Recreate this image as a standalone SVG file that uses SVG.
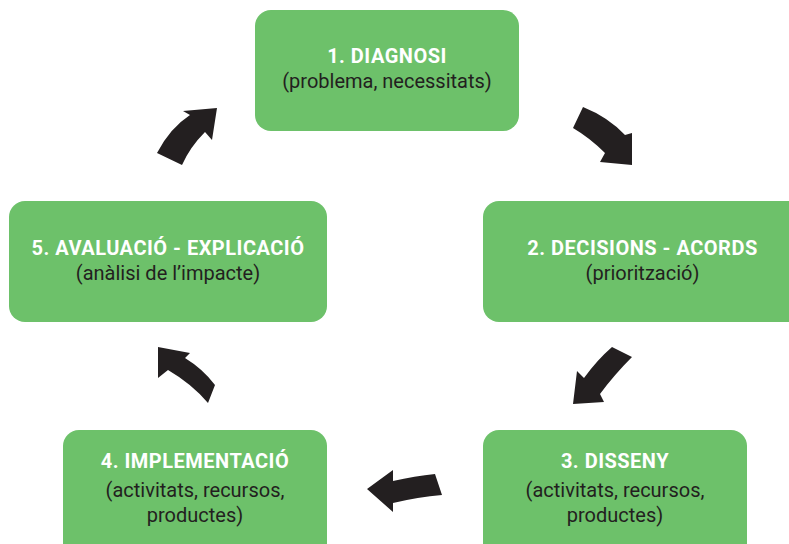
<svg xmlns="http://www.w3.org/2000/svg" width="789" height="544" viewBox="0 0 789 544">
<style>
.box{fill:#6DC16A}
.t{font-family:Roboto,"Liberation Sans",sans-serif;font-weight:bold;font-size:20px;letter-spacing:0.5px;fill:#ffffff;text-anchor:middle}
.s{font-family:Roboto,"Liberation Sans",sans-serif;font-size:20px;fill:#231f20;text-anchor:middle}
.arr{fill:#231f20}
</style>
<rect width="789" height="544" fill="#ffffff"/>
<g id="n1"><rect class="box" x="255" y="10" width="264" height="121" rx="16"/>
<text class="t" x="387" y="63">1. DIAGNOSI</text><text class="s" x="387" y="88">(problema, necessitats)</text></g>
<g id="n2"><rect class="box" x="483" y="201" width="330" height="121" rx="16"/>
<text class="t" x="642.5" y="255">2. DECISIONS - ACORDS</text><text class="s" x="642.5" y="280">(priorització)</text></g>
<g id="n3"><rect class="box" x="483" y="430" width="264" height="130" rx="16"/>
<text class="t" x="615" y="468">3. DISSENY</text><text class="s" x="615" y="497">(activitats, recursos,</text><text class="s" x="615" y="522">productes)</text></g>
<g id="n4"><rect class="box" x="63" y="430" width="264" height="130" rx="16"/>
<text class="t" x="195" y="468">4. IMPLEMENTACIÓ</text><text class="s" x="195" y="497">(activitats, recursos,</text><text class="s" x="195" y="522">productes)</text></g>
<g id="n5"><rect class="box" x="9" y="201" width="318" height="121" rx="16"/>
<text class="t" x="168" y="255">5. AVALUACIÓ - EXPLICACIÓ</text><text class="s" x="168" y="280">(anàlisi de l’impacte)</text></g>
<g id="connectors">
<path class="arr" d="M217 108 L212 140 L205 132 Q190 147 182 165 L157 153 Q170 128 190 115 L183 111 Z"/>
<path class="arr" d="M632 165 L600 162 L605 153 Q590 138 573 128 L583 107 Q608 117 625 135 L632 133 Z"/>
<path class="arr" d="M573 404 L577 371 L584 378 Q597 360 612 347 L632 357 Q614 375 600 394 L604 402 Z"/>
<path class="arr" d="M367 489 L393 470 L393 481 Q415 476 435 474 L442 495 Q418 497 393 503 L393 512 Z"/>
<path class="arr" d="M158 347 L190 353 L185 358 Q203 369 215 385 L208 403 Q192 384 168 370 L158 378 Z"/>
</g>
</svg>
